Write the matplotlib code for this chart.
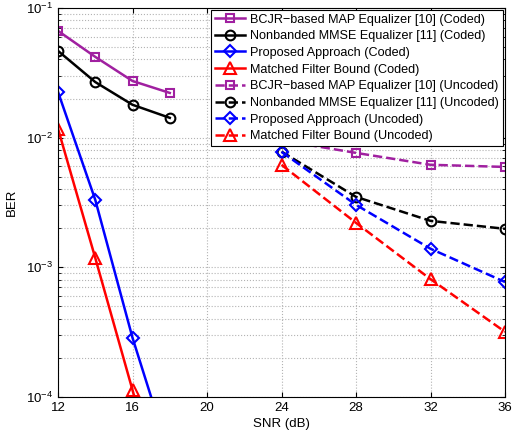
import numpy as np
import matplotlib.pyplot as plt

plt.rcParams["font.family"] = ["Liberation Sans", "DejaVu Sans"]

snr_coded = [12, 14, 16, 18]
snr_uncoded = [24, 28, 32, 36]

bcjr_coded = [0.0665, 0.0419, 0.0273, 0.0221]
mmse_coded = [0.0466, 0.0268, 0.0179, 0.0142]
prop_coded = [0.0225, 0.00331, 2.86e-4, 3.5e-5]
mfb_coded = [0.0117, 1.18e-3, 1.13e-4, 1.0e-5]

bcjr_uncoded = [0.0095, 0.00762, 0.00617, 0.00594]
mmse_uncoded = [0.0078, 0.00349, 0.00228, 0.00198]
prop_uncoded = [0.00776, 0.00303, 0.00139, 7.7e-4]
mfb_uncoded = [0.00616, 0.0022, 8.1e-4, 3.18e-4]

labels = ["BCJR\u2212based MAP Equalizer [10] (Coded)",
          "Nonbanded MMSE Equalizer [11] (Coded)",
          "Proposed Approach (Coded)",
          "Matched Filter Bound (Coded)",
          "BCJR\u2212based MAP Equalizer [10] (Uncoded)",
          "Nonbanded MMSE Equalizer [11] (Uncoded)",
          "Proposed Approach (Uncoded)",
          "Matched Filter Bound (Uncoded)"]

purple = "#a020a0"
colors = [purple, "black", "blue", "red"]
markers = ["s", "o", "D", "^"]
msizes = [6, 7, 6, 8]

fig = plt.figure(figsize=(5.18, 4.37), dpi=100)
ax = fig.add_axes([0.112, 0.0915, 0.863, 0.8905])

coded = [bcjr_coded, mmse_coded, prop_coded, mfb_coded]
uncoded = [bcjr_uncoded, mmse_uncoded, prop_uncoded, mfb_uncoded]
for i in range(4):
    ax.semilogy(snr_coded, coded[i], color=colors[i], marker=markers[i],
                ms=msizes[i], mfc="none", mew=1.5, lw=1.8, label=labels[i])
for i in range(4):
    ax.semilogy(snr_uncoded, uncoded[i], color=colors[i], marker=markers[i],
                ms=msizes[i], mfc="none", mew=1.5, lw=1.8, ls="--",
                label=labels[i + 4])

ax.set_xlim(12, 36)
ax.set_ylim(1e-4, 1e-1)
ax.set_xticks([12, 16, 20, 24, 28, 32, 36])
ax.grid(True, which="major", ls=":", color="0.7", lw=0.8)
ax.grid(True, which="minor", axis="y", ls=":", color="0.7", lw=0.8)
ax.tick_params(which="both", direction="in", labelsize=9.5, top=True, right=True)
ax.set_xlabel("SNR (dB)", fontsize=9.5, labelpad=3)
ax.set_ylabel("BER", fontsize=9.5, labelpad=6)

leg = ax.legend(loc="upper right", fontsize=9.1, handlelength=2.4,
                fancybox=False, framealpha=1, edgecolor="black",
                borderaxespad=0.15, labelspacing=0.37, borderpad=0.3,
                handletextpad=0.4)
leg.get_frame().set_linewidth(0.8)

plt.savefig("out.png")
